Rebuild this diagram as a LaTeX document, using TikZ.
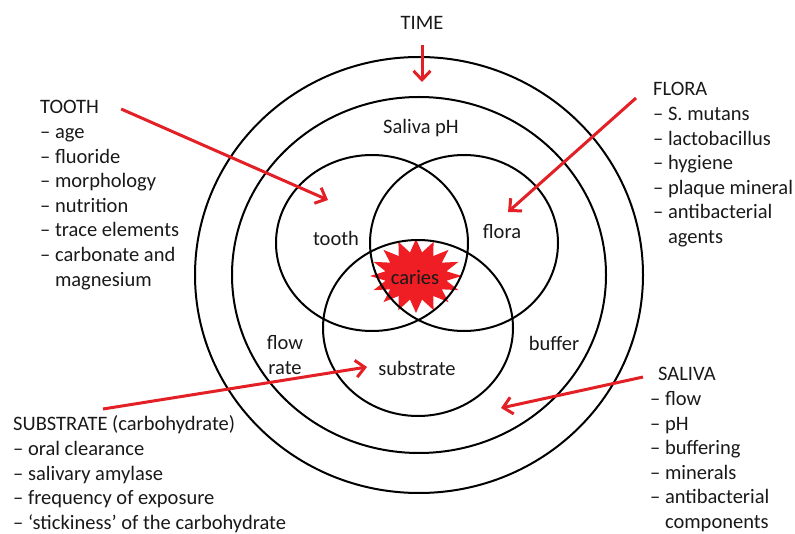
\documentclass[tikz,border=0pt]{standalone}
\usepackage{fontspec}
\setmainfont{Carlito}
\usepackage{xcolor}
\usepackage{tikz}
\usetikzlibrary{positioning, arrows.meta}

\definecolor{arrowred}{RGB}{226,32,38}
\definecolor{starred}{RGB}{238,30,36}

\begin{document}
\begin{tikzpicture}[
  x=1pt, y=1pt,
  every node/.style={font=\fontsize{20.5}{24.6}\selectfont, inner sep=0pt, text=black!90},
  ring/.style={draw, line width=2pt},
  head/.style={anchor=base west},
  items/.style={align=left},
  arrow/.style={-{Straight Barb[length=9pt, width=17pt]}, line width=3pt, arrowred},
]
\useasboundingbox (0,0) rectangle (795,533);

% Caries star
\fill[starred, shift={(416,257)}] (0:46 and 37)
  \foreach \k in {1,...,15} { -- ({\k*22.5-11.25}:31 and 24) -- ({\k*22.5}:46 and 37) }
  -- (348.75:31 and 24) -- cycle;

% Time and saliva rings
\draw[ring] (419,258) ellipse [x radius=224, y radius=218];
\draw[ring] (419,258) ellipse [x radius=187, y radius=178];

% Tooth, flora, substrate
\draw[ring] (372,290) ellipse [x radius=96, y radius=88];
\draw[ring] (464,290) ellipse [x radius=94, y radius=88];
\draw[ring] (418,205) ellipse [x radius=95, y radius=88];

% Labels in the rings
\node (time) at (422,510) {TIME};
\node (salivaph) at (421,405) {Saliva pH};
\node (toothlbl) at (336,295) {tooth};
\node (floralbl) at (502,301) {flora};
\node[align=center] (flowrate) at (285,178) {flow\\rate};
\node (bufferlbl) at (554,190) {buffer};
\node (substratelbl) at (417,165) {substrate};
\node (caries) at (415,255) {caries};

% Tooth
\node[head] (toothhd) at (40,419.4) {TOOTH};
\node[items, below=7.4pt of toothhd.base west, anchor=north west] (toothlist)
  {\strut– age\\– fluoride\\– morphology\\– nutrition\\– trace elements\\
   – carbonate and\\\phantom{– }magnesium};

% Flora
\node[head] (florahd) at (653,437.4) {FLORA};
\node[items, below=7.4pt of florahd.base west, anchor=north west] (floralist)
  {\strut– S. mutans\\– lactobacillus\\– hygiene\\– plaque mineral\\
   – antibacterial\\\phantom{– }agents};

% Substrate
\node[head] (substratehd) at (13,102.4) {SUBSTRATE (carbohydrate)};
\node[items, below=7.4pt of substratehd.base west, anchor=north west] (substratelist)
  {\strut– oral clearance\\– salivary amylase\\– frequency of exposure\\
   – ‘stickiness’ of the carbohydrate};

% Saliva
\node[head] (salivahd) at (658,152.4) {SALIVA};
\node[items, below=7.4pt of salivahd.base west, anchor=north west, xshift=-8pt] (salivalist)
  {\strut– flow\\– pH\\– buffering\\– minerals\\– antibacterial\\\phantom{– }components};

% Arrows
\coordinate (timetip) at (422,451);
\coordinate (toothtip) at (328,333);
\coordinate (floratip) at (508,321);
\coordinate (substratetip) at (367,166);
\coordinate (salivatip) at (501,125);

\draw[arrow, shorten <=15pt] (time.south) -- (timetip);
\draw[arrow] ([xshift=22pt, yshift=-2pt]toothhd.east) -- (toothtip);
\draw[arrow] ([xshift=-17pt, yshift=-9pt]florahd.west) -- (floratip);
\draw[arrow] ([xshift=90pt, yshift=21.6pt]substratehd.base west) -- (substratetip);
\draw[arrow] ([xshift=-15pt, yshift=-3pt]salivahd.west) -- (salivatip);

\end{tikzpicture}
\end{document}
